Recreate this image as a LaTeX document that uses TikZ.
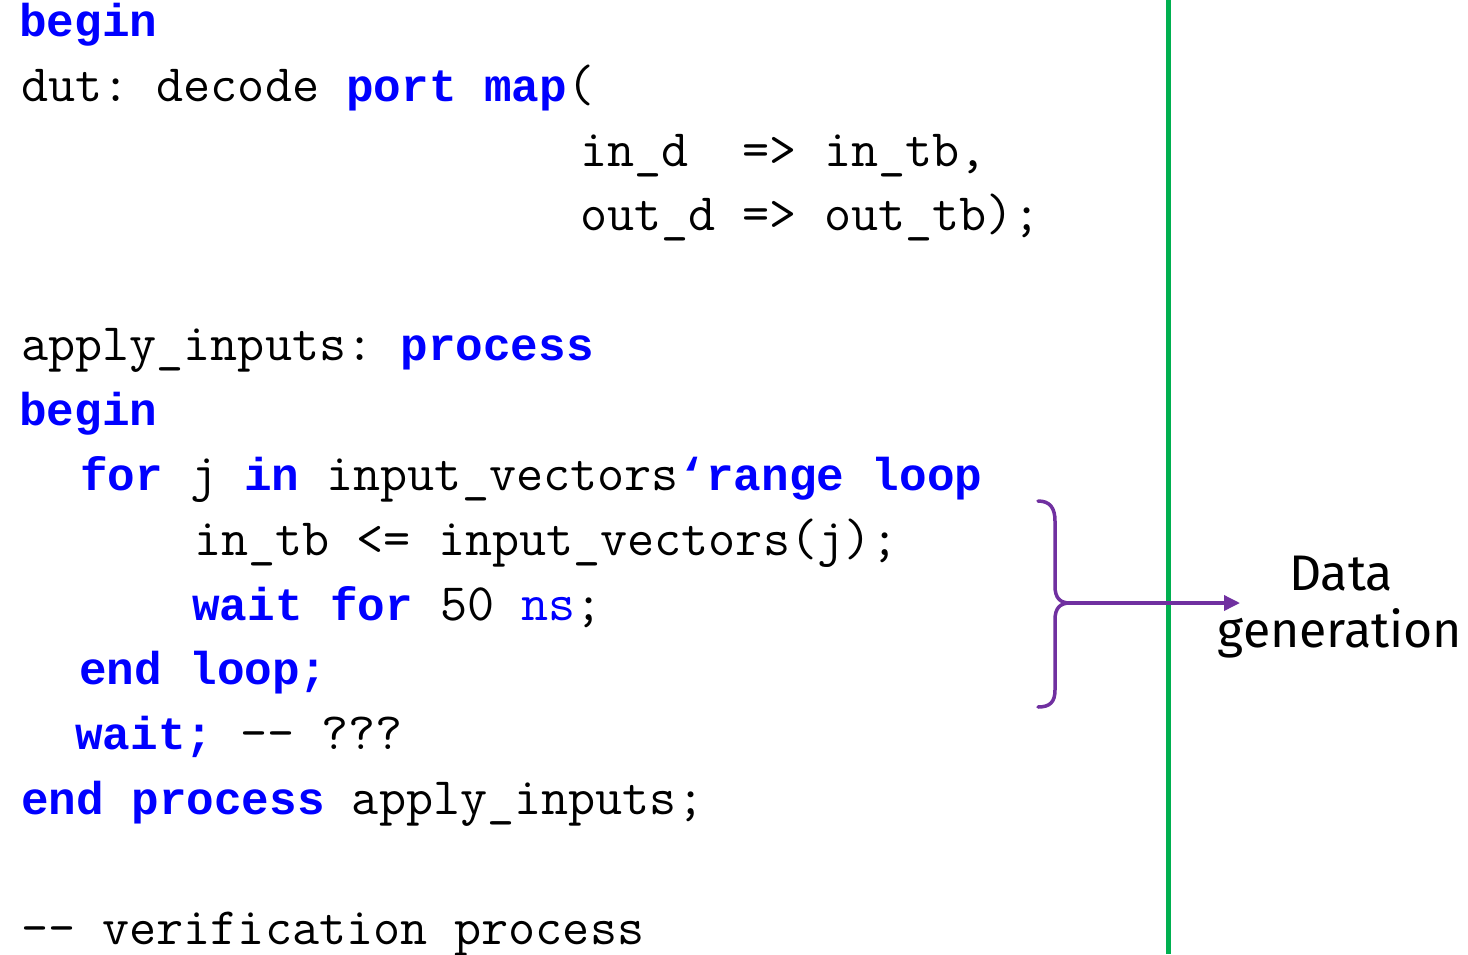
\documentclass[tikz,border=0pt]{standalone}
\usepackage{fontspec}
\usetikzlibrary{arrows.meta}
\usetikzlibrary{positioning}
\newfontfamily\kwfont{Liberation Mono}
\newfontfamily\labelfont{Fira Sans}
\definecolor{kwblue}{HTML}{0000FF}
\definecolor{bracepurple}{HTML}{7030A0}
\definecolor{rulegreen}{HTML}{00B050}
\newcommand{\kw}[1]{{\kwfont\bfseries\fontsize{46}{55}\selectfont\frenchspacing\color{kwblue}#1}}
\tikzset{
  codeline/.style={anchor=base west, inner sep=0pt,
    font=\ttfamily\fontsize{52.6}{60}\selectfont\frenchspacing},
  labeltext/.style={anchor=base, inner sep=0pt, font=\labelfont\fontsize{50}{57}\selectfont},
  bracepath/.style={draw=bracepurple, line width=3.5pt, line cap=round},
}

\begin{document}
\begin{tikzpicture}[x=1pt, y=-1pt]
\useasboundingbox[fill=white] (0,0) rectangle (1468,954);

% code
\node[codeline] (beginA) at (19,36) {\kw{begin}};
\node[codeline] (dut) at (21,101) {dut: decode \kw{port map}(};
\node[codeline] (mapin) at (580,166) {in\_d\ \ => in\_tb,};
\node[codeline] (mapout) at (580,230) {out\_d => out\_tb);};
\node[codeline] (apply) at (21,360) {apply\_inputs: \kw{process}};
\node[codeline] (beginB) at (19,425) {\kw{begin}};
\node[codeline] (forloop) at (80,490) {\kw{for} j \kw{in} input\_vectors\kw{‘range loop}};
\node[codeline] (assign) at (194,555) {in\_tb <= input\_vectors(j);};
\node[codeline] (waitfor) at (192,620) {\kw{wait for} 50 \textcolor{kwblue}{ns};};
\node[codeline] (endloop) at (79,684) {\kw{end loop;}};
\node[codeline] (waitall) at (75,749) {\kw{wait;} -{}- ???};
\node[codeline] (endproc) at (21,814) {\kw{end process} apply\_inputs;};
\node[codeline] (verif) at (21,944) {-{}- verification process};

% divider
\draw[rulegreen, line width=5pt] (1168,0) -- (1168,954);

% brace and label
\coordinate (tip) at (1070,603);
\coordinate (arrowend) at (1240,603);
\draw[bracepath] (1038,501) .. controls (1050,501) and (1055,508) .. (1055,521)
  -- (1055,586) .. controls (1055,598) and (1060,603) .. (tip)
  .. controls (1060,603) and (1055,608) .. (1055,620)
  -- (1055,690) .. controls (1055,702) and (1050,707) .. (1038,707);
\draw[bracepurple, line width=3.5pt, -{Triangle[length=16pt, width=15pt]}] (tip) -- (arrowend);

\node[labeltext] (data) at (1341,590) {Data};
\node[labeltext] (generation) at (1340,647) {generation};
\end{tikzpicture}
\end{document}
